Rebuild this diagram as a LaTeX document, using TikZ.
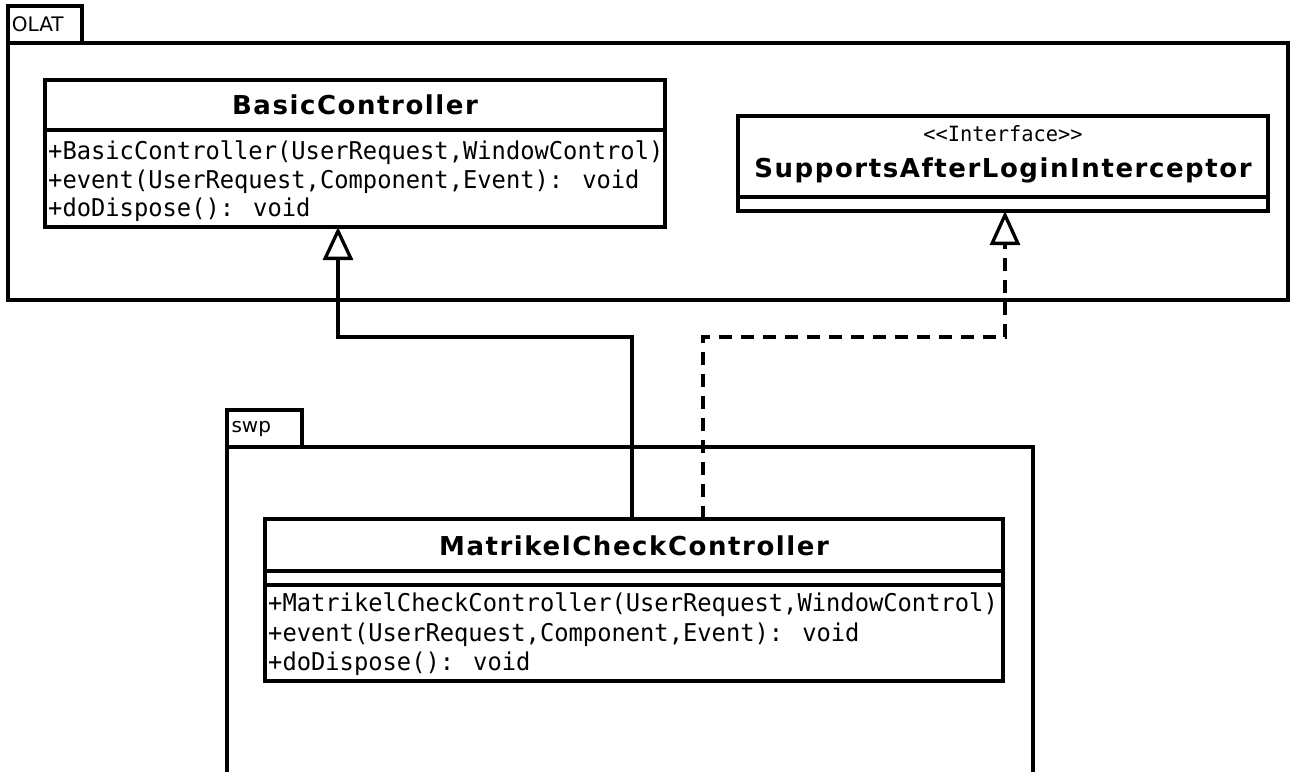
\documentclass[tikz,border=0pt]{standalone}
\usepackage{fontspec}
\setmainfont{DejaVu Sans}
\newfontfamily\titlefont[LetterSpace=6]{DejaVu Sans Bold}
\newfontfamily\opfont[FakeStretch=0.97]{DejaVu Sans Mono}
\newfontfamily\pkgfont{DejaVu Sans}
\usetikzlibrary{arrows.meta}

\tikzset{
  umlline/.style={line width=3.3pt, line join=miter},
  pkgtab/.style={umlline, draw, rectangle, inner sep=0pt, outer sep=0pt,
    font=\pkgfont\fontsize{20}{22}\selectfont, text width=66pt, align=left},
  pkgbody/.style={umlline, draw, rectangle, inner sep=0pt, outer sep=0pt},
  classbox/.style={umlline, draw, fill=white, rectangle, inner sep=0pt, outer sep=0pt},
  compline/.style={umlline},
  clsname/.style={anchor=base, inner sep=0pt, font=\titlefont\fontsize{26}{28}\selectfont},
  stereo/.style={anchor=base, inner sep=0pt, font=\opfont\fontsize{21}{23}\selectfont},
  oper/.style={anchor=base west, inner sep=0pt, font=\opfont\fontsize{24.5}{26}\selectfont},
  gen/.style={umlline, -{Triangle[open, length=33pt, width=30pt]}},
  real/.style={umlline, dash pattern=on 13pt off 9pt, -{Triangle[open, length=34pt, width=30pt]}},
}

\begin{document}
\begin{tikzpicture}[x=1pt, y=-1pt]
  \useasboundingbox (0,0) rectangle (1290,771);
  \fill[white] (0,0) rectangle (1290,771);
  \clip (0,0) rectangle (1290,771);

  % package OLAT
  \node[pkgtab, minimum width=74pt, minimum height=37pt] (olattab) at (45,24.5) {OLAT};
  \node[pkgbody, minimum width=1280pt, minimum height=257pt] (olat) at (648,171.5) {};

  % package swp (runs past the lower edge)
  \node[pkgtab, minimum width=75pt, minimum height=37pt] (swptab) at (264.5,428.5) {swp};
  \node[pkgbody, minimum width=806pt, minimum height=370pt] (swp) at (630,632) {};

  % class BasicController
  \node[classbox, minimum width=620pt, minimum height=147pt] (basic) at (355,153.5) {};
  \draw[compline] ([yshift=-50pt]basic.north west) -- ([yshift=-50pt]basic.north east);
  \node[clsname] (basicname) at (355,114) {BasicController};
  \node[oper] (basicop1) at (48,159) {+BasicController(UserRequest,WindowControl)};
  \node[oper] (basicop2) at (48,188) {+event(UserRequest,Component,Event): void};
  \node[oper] (basicop3) at (48,216.5) {+doDispose(): void};

  % interface SupportsAfterLoginInterceptor
  \node[classbox, minimum width=530pt, minimum height=95pt] (iface) at (1003,163.5) {};
  \draw[compline] ([yshift=-81pt]iface.north west) -- ([yshift=-81pt]iface.north east);
  \node[stereo] (ifacestereo) at (1003,141) {<<Interface>>};
  \node[clsname] (ifacename) at (1003,177) {SupportsAfterLoginInterceptor};

  % class MatrikelCheckController
  \node[classbox, minimum width=738pt, minimum height=162pt] (mat) at (634,600) {};
  \draw[compline] ([yshift=-52pt]mat.north west) -- ([yshift=-52pt]mat.north east);
  \draw[compline] ([yshift=-66pt]mat.north west) -- ([yshift=-66pt]mat.north east);
  \node[clsname] (matname) at (634,555) {MatrikelCheckController};
  \node[oper] (matop1) at (268,611) {+MatrikelCheckController(UserRequest,WindowControl)};
  \node[oper] (matop2) at (268,641) {+event(UserRequest,Component,Event): void};
  \node[oper] (matop3) at (268,670) {+doDispose(): void};

  % generalization and realization
  \coordinate (lvl) at (0,337);
  \coordinate (gsrc) at ([xshift=-2pt]mat.north);
  \coordinate (gdst) at ([xshift=-17pt]basic.south);
  \coordinate (rsrc) at ([xshift=69pt]mat.north);
  \coordinate (rdst) at ([xshift=2pt]iface.south);
  \draw[gen] (gsrc) |- (gdst |- lvl) -- (gdst);
  \draw[real] (rsrc) |- (rdst |- lvl) -- (rdst);
\end{tikzpicture}
\end{document}
